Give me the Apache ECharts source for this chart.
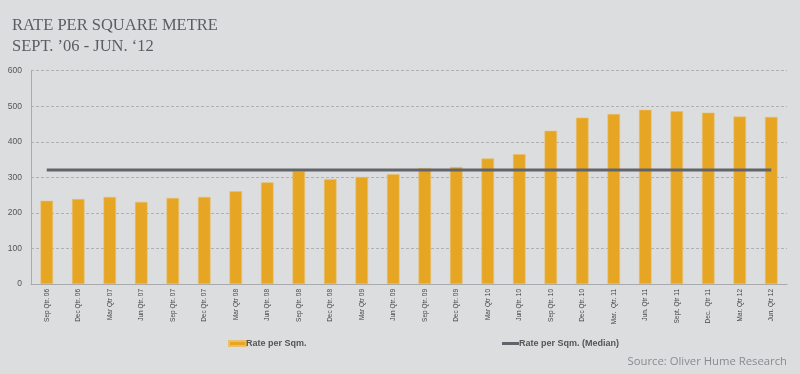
<!DOCTYPE html>
<html><head><meta charset="utf-8">
<script src="https://cdn.jsdelivr.net/npm/echarts@6/dist/echarts.min.js"></script>
<style>html,body{margin:0;padding:0;background:#dcdddf;}#c{width:800px;height:374px;}</style>
</head><body><div id="c"></div>
<script>
const categories = ["Sep Qtr. 06","Dec Qtr. 06","Mar Qtr 07","Jun Qtr. 07","Sep Qtr. 07","Dec Qtr. 07","Mar Qtr 08","Jun Qtr. 08","Sep Qtr. 08","Dec Qtr. 08","Mar Qtr 09","Jun Qtr. 09","Sep Qtr. 09","Dec Qtr. 09","Mar Qtr 10","Jun Qtr. 10","Sep Qtr. 10","Dec Qtr. 10","Mar.  Qtr. 11","Jun. Qtr 11","Sept. Qtr 11","Dec.  Qtr 11","Mar. Qtr 12","Jun. Qtr 12"];
const rateValues = [234,239,245,231,242,245,261,286,317,295,301,309,326,329,353,365,431,468,478,490,486,482,471,470];
const medianValues = [321,321,321,321,321,321,321,321,321,321,321,321,321,321,321,321,321,321,321,321,321,321,321,321];
const yTicks = [0,100,200,300,400,500,600];

const chart = echarts.init(document.getElementById('c'), null, {renderer:'canvas'});
chart.setOption({
  backgroundColor:'#dcdddf',
  animation:false,
  title:{
    text:'RATE PER SQUARE METRE\nSEPT. \u201906 - JUN. \u201812',
    left:7, top:10,
    textStyle:{fontFamily:'Liberation Serif', fontSize:16.5, fontWeight:'normal', color:'#5c5d64', lineHeight:21}
  },
  graphic:[{
    type:'text', right:13, top:356,
    style:{text:'Source: Oliver Hume Research', font:'11.3px "Open Sans"', fill:'#8a8b8f'}
  }],
  legend:[{
    data:['Rate per Sqm.'], left:223, top:334, itemWidth:17, itemHeight:5, itemGap:2,
    textStyle:{fontSize:9, fontWeight:'bold', color:'#555', fontFamily:'Liberation Sans', padding:[0,0,0,-5]},
    icon:'rect'
  },{
    data:['Rate per Sqm. (Median)'], left:497, top:334, itemWidth:17, itemHeight:3,
    textStyle:{fontSize:9, fontWeight:'bold', color:'#555', fontFamily:'Liberation Sans', padding:[0,0,0,-5]},
    icon:'rect'
  }],
  grid:{left:31, right:13, top:70.7, bottom:90, containLabel:false},
  xAxis:{
    type:'category', data:categories, boundaryGap:true,
    axisLine:{lineStyle:{color:'#a9aaad', width:1}},
    axisTick:{show:false},
    axisLabel:{rotate:90, interval:0, fontSize:6.5, color:'#444', fontFamily:'Liberation Sans', margin:5}
  },
  yAxis:{
    type:'value', min:0, max:600, interval:100,
    axisLine:{show:true, lineStyle:{color:'#a9aaad'}},
    axisTick:{show:false},
    axisLabel:{fontSize:8.5, color:'#555', fontFamily:'Liberation Sans', margin:9},
    splitLine:{lineStyle:{type:[3,2], color:'#b0b1b4', width:1}}
  },
  series:[{
    name:'Rate per Sqm.', type:'bar', data:rateValues, barWidth:12.5,
    itemStyle:{color:'#e6a624', borderColor:'#e9bf6c', borderWidth:0.6}
  },{
    name:'Rate per Sqm. (Median)', type:'line', data:medianValues, symbol:'none',
    lineStyle:{color:'#62646b', width:3}, itemStyle:{color:'#62646b'}
  }]
});
</script></body></html>
